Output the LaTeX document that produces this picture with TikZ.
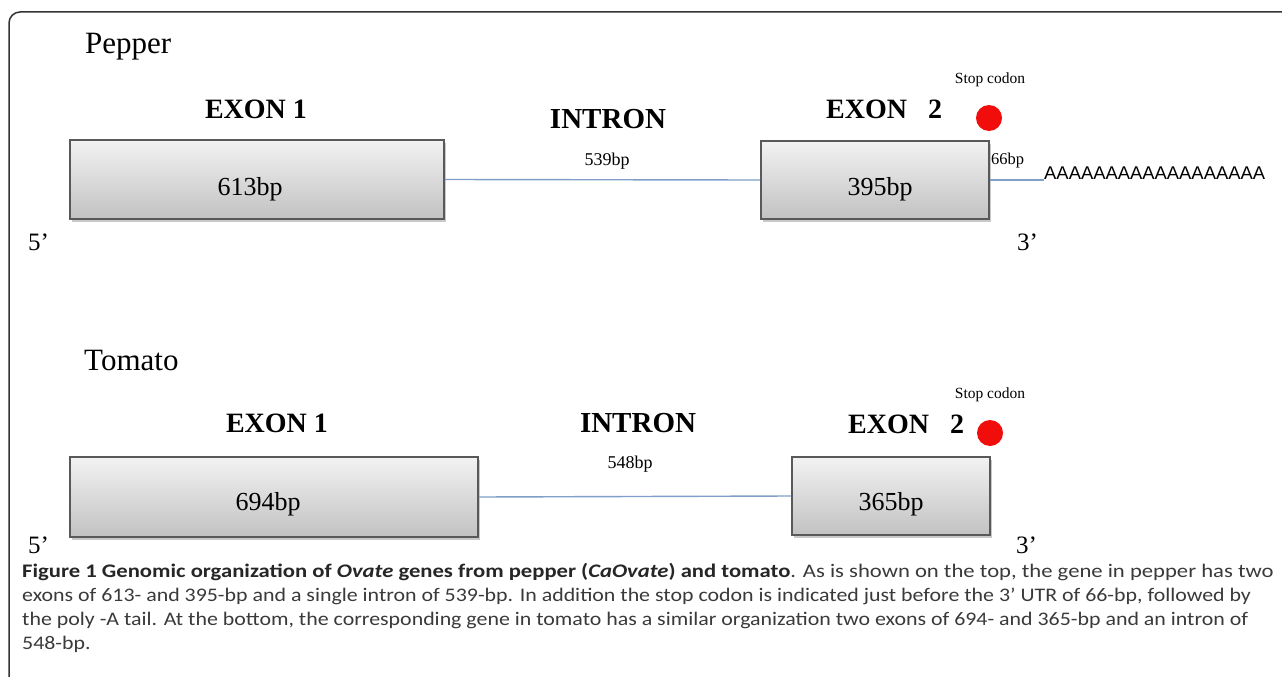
\documentclass[tikz,border=0pt]{standalone}
\usepackage{fontspec}
\setmainfont{Liberation Serif}
\newfontfamily\capfont[FakeStretch=1.14]{Carlito}
\newfontfamily\capfontwide[FakeStretch=1.18]{Carlito}
\newfontfamily\arialfont{Liberation Sans}
\usetikzlibrary{shadows}
\definecolor{intronblue}{HTML}{7F9FC8}
\definecolor{stopred}{HTML}{F20D0D}
\definecolor{capgray}{HTML}{3A3A3A}
\begin{document}
\begin{tikzpicture}[x=1pt,y=-1pt,
  exonbox/.style={draw=black!65, line width=1.6pt, top color=black!5, bottom color=black!24,
    drop shadow={shadow xshift=2pt, shadow yshift=-3pt, opacity=0.35, fill=black!60},
    inner sep=0pt, minimum height=#1},
  exonbox/.default=79pt,
  species/.style={anchor=base west, inner sep=0pt, font=\fontsize{31}{31}\selectfont},
  exonlbl/.style={anchor=base, inner sep=0pt, font=\fontsize{28}{28}\selectfont\bfseries},
  intronlbl/.style={anchor=base, inner sep=0pt, font=\fontsize{29}{29}\selectfont\bfseries},
  boxbp/.style={anchor=base, inner sep=0pt, font=\fontsize{26}{26}\selectfont},
  smallbp/.style={anchor=base, inner sep=0pt, font=\fontsize{18}{18}\selectfont},
  stoplbl/.style={anchor=base, inner sep=0pt, font=\fontsize{15.5}{15.5}\selectfont},
  endlbl/.style={anchor=base west, inner sep=0pt, font=\fontsize{25}{25}\selectfont},
  stopdot/.style={circle, fill=stopred, minimum size=26pt, inner sep=0pt},
  intron/.style={draw=intronblue, line width=1.4pt},
  capline/.style={anchor=base west, inner sep=0pt, text=capgray, font=\capfont\fontsize{19.2}{19.2}\selectfont},
]
\useasboundingbox (0,0) rectangle (1282,677);
\fill[white] (0,0) rectangle (1282,677);
% frame
\draw[black!80, line width=1.5pt, rounded corners=11pt] (9,690) -- (9,12) -- (1300,12);

% ---------------- Pepper ----------------
\node[species] (pepper) at (85,54) {Pepper};
\node[exonlbl] (pex1) at (256,118) {EXON 1};
\node[intronlbl] (pin) at (608,128) {INTRON};
\node[exonlbl, anchor=base west] (pex2) at (826,118) {EXON\hspace{0.5em} 2};
\node[stoplbl] (pstop) at (990,83) {Stop codon};
\node[stopdot] (pdot) at (989,118) {};

\node[exonbox, minimum width=374pt] (pb1) at (257,179.5) {};
\node[exonbox=78pt, minimum width=228pt] (pb2) at (875,180) {};
\node[boxbp] (pb1t) at (250,195) {613bp};
\node[boxbp] (pb2t) at (880,195) {395bp};
\node[smallbp] (pibp) at (607,165) {539bp};
\node[smallbp, anchor=base west, font=\fontsize{16.5}{16.5}\selectfont] (putr) at (991,164) {66bp};
\node[anchor=west, inner sep=0pt, font=\arialfont\fontsize{18.4}{18.4}\selectfont] (polyA) at (1044,173) {AAAAAAAAAAAAAAAAAA};
\draw[intron] (pb1.east) -- (pb2.west);
\draw[intron] (pb2.east) -- (pb2.east -| polyA.west);
\node[endlbl] (p5) at (28,250) {5’};
\node[endlbl] (p3) at (1017,250) {3’};

% ---------------- Tomato ----------------
\node[species] (tomato) at (84,370) {Tomato};
\node[exonlbl] (tex1) at (277,432) {EXON 1};
\node[intronlbl] (tin) at (638,432) {INTRON};
\node[exonlbl, anchor=base west] (tex2) at (848,433) {EXON\hspace{0.5em} 2};
\node[stoplbl] (tstop) at (990,398) {Stop codon};
\node[stopdot] (tdot) at (990,433) {};

\node[exonbox=80pt, minimum width=408pt] (tb1) at (274,497) {};
\node[exonbox=78pt, minimum width=198pt] (tb2) at (891,496) {};
\node[boxbp] (tb1t) at (268,510) {694bp};
\node[boxbp] (tb2t) at (891,510) {365bp};
\node[smallbp] (tibp) at (630,468) {548bp};
\draw[intron] (tb1.east) -- (tb2.west);
\node[endlbl] (t5) at (28,553) {5’};
\node[endlbl] (t3) at (1016,553) {3’};

% ---------------- Caption ----------------
\node[capline, font=\capfontwide\fontsize{19.2}{19.2}\selectfont] (c1) at (22,577) {\textcolor{black!85}{\textbf{Figure 1 Genomic organization of \textit{Ovate} genes from pepper (\textit{CaOvate}) and tomato}}. As is shown on the top, the gene in pepper has two};
\node[capline] (c2) at (22,601) {exons of 613- and 395-bp and a single intron of 539-bp. In addition the stop codon is indicated just before the 3’ UTR of 66-bp, followed by};
\node[capline] (c3) at (22,625) {the poly -A tail. At the bottom, the corresponding gene in tomato has a similar organization two exons of 694- and 365-bp and an intron of};
\node[capline] (c4) at (22,649) {548-bp.};
\end{tikzpicture}
\end{document}
